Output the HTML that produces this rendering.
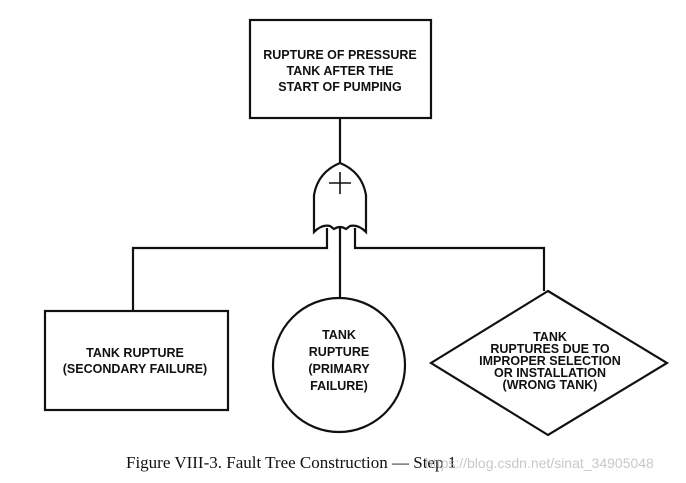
<!DOCTYPE html>
<html><head><style>
html,body{margin:0;padding:0;background:#fff;}
svg{display:block}
.t{font-family:"Liberation Sans",sans-serif;font-weight:bold;font-size:12.5px;fill:#111;text-anchor:middle}
</style></head><body>
<svg width="686" height="483" viewBox="0 0 686 483">
<g fill="none" stroke="#111" stroke-width="2.2">
<rect x="250" y="20" width="181" height="98"/>
<line x1="340" y1="118" x2="340" y2="163"/>
<path d="M340 163 Q362 172 366 195 L366 232 Q358 224 350 226 L346 229 Q340 225 334 229 L330 226 Q322 224 314 232 L314 195 Q318 172 340 163 Z"/>
<line x1="329" y1="183" x2="351" y2="183" stroke-width="1.6"/>
<line x1="340" y1="172" x2="340" y2="194" stroke-width="1.6"/>
<path d="M327 228 L327 248 L133 248 L133 311"/>
<path d="M355 228 L355 248 L544 248 L544 291"/>
<line x1="340" y1="227" x2="340" y2="298"/>
<rect x="45" y="311" width="183" height="99"/>
<ellipse cx="339" cy="365" rx="66" ry="67"/>
<polygon points="548,291 667,363 548,435 431,363"/>
</g>
<text class="t" x="340" y="59">RUPTURE OF PRESSURE</text>
<text class="t" x="340" y="75">TANK AFTER THE</text>
<text class="t" x="340" y="91">START OF PUMPING</text>
<text class="t" x="135" y="357">TANK RUPTURE</text>
<text class="t" x="135" y="373">(SECONDARY FAILURE)</text>
<text class="t" x="339" y="339">TANK</text>
<text class="t" x="339" y="356">RUPTURE</text>
<text class="t" x="339" y="373">(PRIMARY</text>
<text class="t" x="339" y="390">FAILURE)</text>
<text class="t" x="550" y="341">TANK</text>
<text class="t" x="550" y="353">RUPTURES DUE TO</text>
<text class="t" x="550" y="365">IMPROPER SELECTION</text>
<text class="t" x="550" y="377">OR INSTALLATION</text>
<text class="t" x="550" y="389">(WRONG TANK)</text>
<text x="126" y="468" font-family="Liberation Serif,serif" font-size="17" fill="#111">Figure VIII-3.  Fault Tree Construction — Step 1</text>
<text x="425" y="468" font-family="Liberation Sans,sans-serif" font-size="14" fill="#bbb" opacity="0.8">https://blog.csdn.net/sinat_34905048</text>
</svg>
</body></html>
